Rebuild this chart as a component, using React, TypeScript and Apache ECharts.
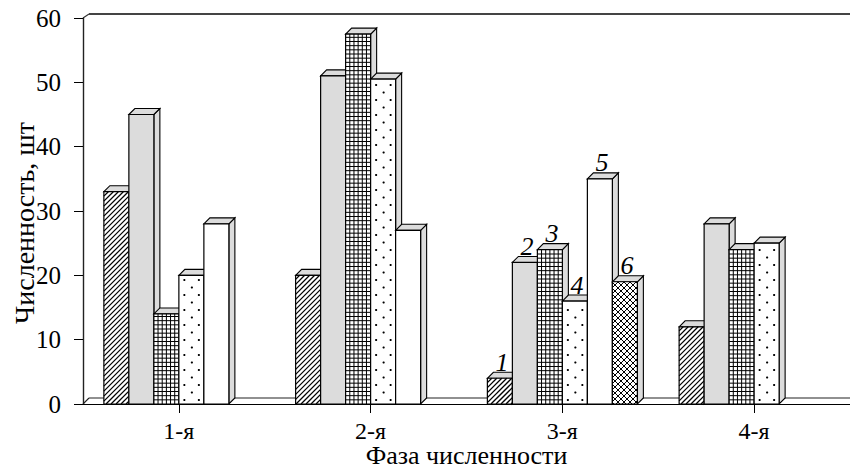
import React, { useEffect, useRef } from 'react';
import * as echarts from 'echarts';

// ---- data ----
const categories = ['1-я', '2-я', '3-я', '4-я'];
const seriesNames = ['1', '2', '3', '4', '5', '6'];
const series1 = [33, 20, 4, 12];
const series2 = [45, 51, 22, 28];
const series3 = [14, 57.5, 24, 24];
const series4 = [20, 50.5, 16, 25];
const series5: (number | null)[] = [28, 27, 35, null];
const series6: (number | null)[] = [null, null, 19, null];
const seriesValues = [series1, series2, series3, series4, series5, series6];
const patternKinds = ['hatch', 'gray', 'grid', 'dots', 'white', 'cross'];
const labelledCategory = '3-я';
const xAxisTitle = 'Фаза численности';
const yAxisTitle = 'Численность, шт';
const yMin = 0;
const yMax = 60;
const yInterval = 10;

// ---- layout / style ----
const GRID_LEFT = 83;
const GRID_TOP = 18;
const GRID_BOTTOM_Y = 404;
const W = 850;
const H = 468;
const DX = 6;
const DY = -6;
const SLOTS = 6;
const BAR_FRAC = 25 / 191.75;
const FACE = '#dcdcdc';
const GRAY = '#dcdcdc';
const INK = '#000';
const FONT = 'Liberation Serif';

function line(x1: number, y1: number, x2: number, y2: number, lw = 1) {
  return { type: 'line', silent: true, shape: { x1, y1, x2, y2 }, style: { stroke: INK, lineWidth: lw } };
}

// lines x + y = c  ("/")
function slashLines(x0: number, y0: number, x1: number, y1: number, S: number, lw: number) {
  const out: any[] = [];
  const cStart = Math.ceil((x0 + y0) / S) * S;
  for (let c = cStart; c <= x1 + y1; c += S) {
    const xs = Math.max(x0, c - y1);
    const xe = Math.min(x1, c - y0);
    if (xe > xs) out.push(line(xs, c - xs, xe, c - xe, lw));
  }
  return out;
}
// lines y - x = c  ("\")
function backslashLines(x0: number, y0: number, x1: number, y1: number, S: number, lw: number) {
  const out: any[] = [];
  const cStart = Math.ceil((y0 - x1) / S) * S;
  for (let c = cStart; c <= y1 - x0; c += S) {
    const xs = Math.max(x0, y0 - c);
    const xe = Math.min(x1, y1 - c);
    if (xe > xs) out.push(line(xs, xs + c, xe, xe + c, lw));
  }
  return out;
}

function patternChildren(kind: string, x0: number, y0: number, x1: number, y1: number) {
  const out: any[] = [];
  const w = x1 - x0;
  if (kind === 'hatch') {
    out.push(...slashLines(x0, y0, x1, y1, 5, 1.3));
  } else if (kind === 'cross') {
    out.push(...slashLines(x0, y0, x1, y1, 6, 1));
    out.push(...backslashLines(x0, y0, x1, y1, 6, 1));
  } else if (kind === 'grid') {
    const step = w / 6;
    for (let k = 1; k < 6; k++) out.push(line(x0 + k * step, y0, x0 + k * step, y1, 1));
    for (let y = y1 - step; y > y0 + 0.5; y -= step) out.push(line(x0, y, x1, y, 1));
  } else if (kind === 'dots') {
    let row = 0;
    for (let y = y1 - 4; y > y0 + 2; y -= 7.5) {
      const xs = row % 2 === 0 ? [0.22, 0.8] : [0.52];
      xs.forEach((f) => {
        out.push({ type: 'circle', silent: true, shape: { cx: x0 + f * w, cy: y, r: 1.1 }, style: { fill: INK } });
      });
      row++;
    }
  }
  return out;
}

function makeRenderItem(si: number) {
  return (params: any, api: any) => {
    const v = api.value(1);
    if (v == null || isNaN(v)) return null;
    const ci = api.value(0);
    const top = api.coord([ci, v]);
    const base = api.coord([ci, 0]);
    const band = api.size([1, 0])[0];
    const w = band * BAR_FRAC;
    const x0 = top[0] - (SLOTS / 2) * w + si * w;
    const x1 = x0 + w;
    const y0 = top[1];
    const y1 = base[1];
    const kind = patternKinds[si];
    const edge = { stroke: INK, lineWidth: 1.1 };
    const children: any[] = [];
    children.push({
      type: 'polygon',
      shape: { points: [[x1, y0], [x1 + DX, y0 + DY], [x1 + DX, y1 + DY], [x1, y1]] },
      style: { fill: FACE, ...edge },
    });
    children.push({
      type: 'polygon',
      shape: { points: [[x0, y0], [x0 + DX, y0 + DY], [x1 + DX, y0 + DY], [x1, y0]] },
      style: { fill: FACE, ...edge },
    });
    children.push({
      type: 'rect',
      shape: { x: x0, y: y0, width: w, height: y1 - y0 },
      style: { fill: kind === 'gray' ? GRAY : '#fff' },
    });
    children.push(...patternChildren(kind, x0, y0, x1, y1));
    children.push({
      type: 'rect',
      shape: { x: x0, y: y0, width: w, height: y1 - y0 },
      style: { fill: 'none', stroke: INK, lineWidth: 1.2 },
    });
    if (categories[ci] === labelledCategory) {
      children.push({
        type: 'text',
        x: x0 + w / 2 + 2,
        y: y0 + DY + 3,
        style: {
          text: seriesNames[si],
          fontFamily: FONT,
          fontSize: 26,
          fontStyle: 'italic',
          fill: INK,
          align: 'center',
          verticalAlign: 'bottom',
        },
      });
    }
    return { type: 'group', children };
  };
}

export default function App() {
  const ref = useRef<HTMLDivElement>(null);
  useEffect(() => {
    if (!ref.current) return;
    const chart = echarts.init(ref.current, null, { renderer: 'svg' });
    const backY = GRID_BOTTOM_Y + DY;
    const option: any = {
      animation: false,
      backgroundColor: '#fff',
      grid: {
        left: GRID_LEFT,
        right: 0,
        top: GRID_TOP,
        bottom: H - GRID_BOTTOM_Y,
        containLabel: false,
        outerBoundsMode: 'none',
      },
      xAxis: {
        type: 'category',
        data: categories,
        axisLine: { show: true, lineStyle: { color: INK, width: 1.2 } },
        axisTick: { show: true, alignWithLabel: true, length: 9, lineStyle: { color: INK, width: 1 } },
        axisLabel: { color: INK, fontFamily: FONT, fontSize: 24, margin: 15 },
        splitLine: { show: false },
      },
      yAxis: {
        type: 'value',
        min: yMin,
        max: yMax,
        interval: yInterval,
        axisLine: { show: true, lineStyle: { color: '#222', width: 1.4 } },
        axisTick: { show: true, length: 9, lineStyle: { color: INK, width: 1 } },
        axisLabel: { color: INK, fontFamily: FONT, fontSize: 25, margin: 22 },
        splitLine: { show: false },
      },
      graphic: [
        { type: 'line', z: 0, silent: true, shape: { x1: GRID_LEFT, y1: GRID_TOP, x2: GRID_LEFT + DX, y2: GRID_TOP - 4 }, style: { stroke: '#333', lineWidth: 1.2 } },
        { type: 'line', z: 0, silent: true, shape: { x1: GRID_LEFT + DX, y1: GRID_TOP - 4, x2: W, y2: GRID_TOP - 4 }, style: { stroke: '#444', lineWidth: 2 } },
        { type: 'line', z: 0, silent: true, shape: { x1: GRID_LEFT, y1: GRID_BOTTOM_Y, x2: GRID_LEFT + DX, y2: backY }, style: { stroke: '#222', lineWidth: 1.1 } },
        { type: 'line', z: 0, silent: true, shape: { x1: GRID_LEFT + DX, y1: backY, x2: W, y2: backY }, style: { stroke: '#222', lineWidth: 1.1 } },
        {
          type: 'text',
          x: 24,
          y: 223,
          rotation: Math.PI / 2,
          silent: true,
          style: {
            text: yAxisTitle,
            fontFamily: FONT,
            fontSize: 28,
            fill: INK,
            align: 'center',
            verticalAlign: 'middle',
          },
        },
        {
          type: 'text',
          x: (GRID_LEFT + W) / 2,
          y: 455,
          silent: true,
          style: {
            text: xAxisTitle,
            fontFamily: FONT,
            fontSize: 26,
            fill: INK,
            align: 'center',
            verticalAlign: 'middle',
          },
        },
      ],
      series: seriesValues.map((vals, si) => ({
        type: 'custom',
        name: seriesNames[si],
        encode: { x: 0, y: 1 },
        renderItem: makeRenderItem(si),
        data: vals.map((v, i) => (v == null ? null : [i, v])).filter((d) => d !== null),
      })),
    };
    chart.setOption(option);
    return () => chart.dispose();
  }, []);
  return <div ref={ref} style={{ position: 'fixed', left: 0, top: 0, width: W, height: H }} />;
}
